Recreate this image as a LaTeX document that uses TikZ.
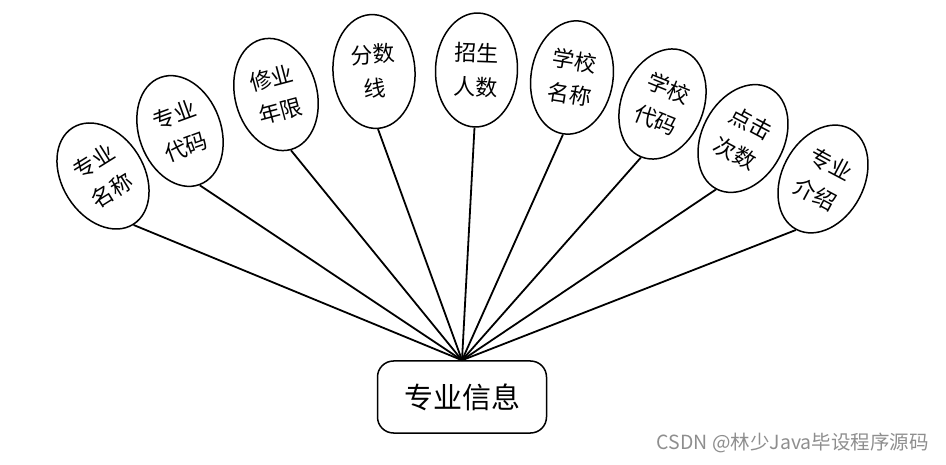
\documentclass[tikz,border=0pt]{standalone}
\usepackage{fontspec}
\setmainfont{Noto Sans CJK SC}
\usepackage{xcolor}
\usepackage{tikz}
\usetikzlibrary{shapes.geometric}
\definecolor{inkP}{HTML}{000000}
\definecolor{markG}{HTML}{8E8E8E}
\tikzset{
  attr/.style={ellipse, draw=inkP, line width=1.5pt, fill=white,
               minimum width=82pt, minimum height=114pt, inner sep=0pt,
               align=center, font=\fontsize{22}{34}\selectfont},
  entity/.style={rectangle, rounded corners=16pt, draw=inkP, line width=1.5pt,
                 minimum width=169pt, minimum height=72pt, inner sep=0pt,
                 font=\fontsize{29}{34}\selectfont},
  link/.style={line width=1.8pt, color=inkP},
  wmark/.style={font=\fontsize{19.5}{22}\selectfont, text=markG, inner sep=0pt},
}
\begin{document}
\begin{tikzpicture}[x=1pt, y=1pt]
  \useasboundingbox (0,0) rectangle (946,464);
  % entity
  \node[entity] (info) at (462,67) {专业信息};
  % attributes, left to right
  \node[attr, rotate=32] (majname) at (103,288) {专业\\名称};
  \node[attr, rotate=20] (majcode) at (180,333) {专业\\代码};
  \node[attr, rotate=15] (years) at (276,369.5) {修业\\年限};
  \node[attr, rotate=4] (score) at (374,392.5) {分数\\线};
  \node[attr, rotate=-2] (enrol) at (476.5,394) {招生\\人数};
  \node[attr, rotate=-9] (schname) at (572,386.5) {学校\\名称};
  \node[attr, rotate=-22] (schcode) at (662.5,360) {学校\\代码};
  \node[attr, rotate=-28] (clicks) at (743,325.5) {点击\\次数};
  \node[attr, rotate=-28] (intro) at (823,285) {专业\\介绍};
  % links
  \foreach \a in {majname,majcode,years,score,enrol,schname,schcode,clicks,intro}
    \draw[link] (\a.south) -- (info.north);
  % watermark
  \node[wmark, anchor=east] (wm) at (929,21) {CSDN @林少Java毕设程序源码};
\end{tikzpicture}
\end{document}
